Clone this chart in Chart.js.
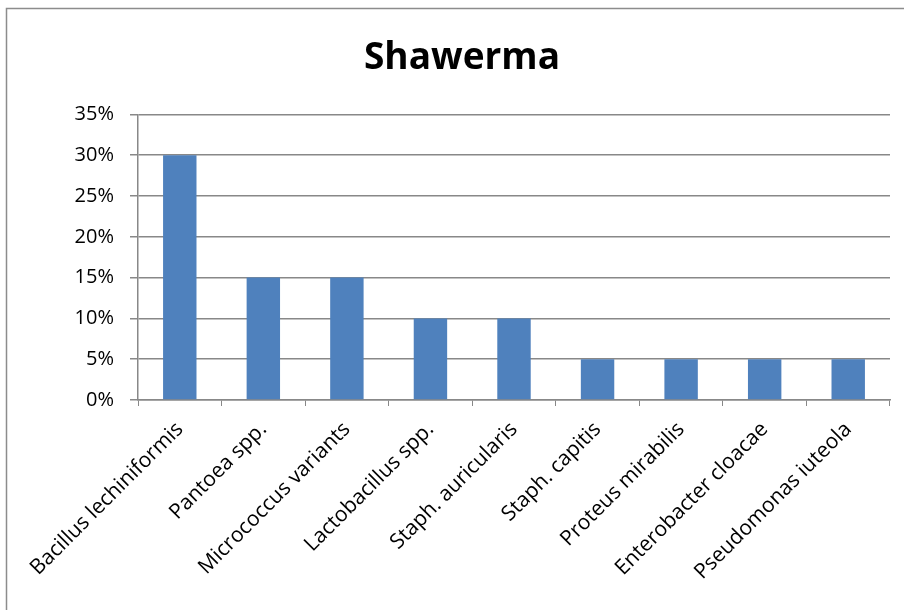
<!DOCTYPE html>
<html lang="en">

<head>
  <meta charset="UTF-8" />
  <title>Shawerma</title>
  <style>
    body { margin: 0; background: #fff; }
    #wrap { width: 904px; height: 610px; }
  </style>
</head>

<body>
  <div id="wrap"><canvas id="myChart" width="904" height="610"></canvas></div>
  <script src="https://cdn.jsdelivr.net/npm/chart.js@4.4.1/dist/chart.umd.min.js"></script>

  <script>
    const categories = [
      "Bacillus lechiniformis",
      "Pantoea spp.",
      "Micrococcus variants",
      "Lactobacillus spp.",
      "Staph. auricularis",
      "Staph. capitis",
      "Proteus mirabilis",
      "Enterobacter cloacae",
      "Pseudomonas iuteola"
    ];
    const percentages = [30, 15, 15, 10, 10, 5, 5, 5, 5];
    const yTicks = [0, 5, 10, 15, 20, 25, 30, 35];

    const gridColor = "#888888";
    const fontFamily = "'Open Sans', Lato, sans-serif";

    // thin frame round the chart, running off the right and bottom edges
    const frame = {
      id: "frame",
      beforeDraw(chart) {
        const ctx = chart.ctx;
        ctx.save();
        ctx.strokeStyle = "#8c8c8c";
        ctx.lineWidth = 1.5;
        ctx.strokeRect(6.5, 8.5, 1000, 1000);
        ctx.restore();
      }
    };

    // centre the title over the frame rather than the canvas
    const titleShift = {
      id: "titleShift",
      afterLayout(chart) {
        chart.titleBlock.left += 17;
        chart.titleBlock.right += 17;
      }
    };

    new Chart(document.getElementById("myChart"), {
      type: "bar",
      data: {
        labels: categories,
        datasets: [{
          data: percentages,
          backgroundColor: "#4F81BD",
          barPercentage: 0.4,
          categoryPercentage: 1.0
        }]
      },
      options: {
        responsive: false,
        animation: false,
        layout: { padding: { left: 0, right: 14, top: 0, bottom: 0 } },
        plugins: {
          legend: { display: false },
          tooltip: { enabled: false },
          title: {
            display: true,
            text: "Shawerma",
            color: "#000",
            font: { family: fontFamily, size: 37, weight: "bold", lineHeight: 1.2 },
            padding: { top: 36, bottom: 34 }
          }
        },
        scales: {
          x: {
            grid: { display: true, drawOnChartArea: false, color: gridColor, tickLength: 6, offset: true },
            border: { color: gridColor, width: 1.5 },
            ticks: {
              color: "#000",
              font: { family: fontFamily, size: 21 },
              maxRotation: 45,
              minRotation: 45,
              autoSkip: false,
              padding: 11
            },
            afterFit: (scale) => { scale.height = 210; }
          },
          y: {
            min: 0,
            max: 35,
            afterBuildTicks: (scale) => { scale.ticks = yTicks.map(v => ({ value: v })); },
            grid: { color: gridColor, lineWidth: 1.5, tickLength: 8 },
            border: { color: gridColor, width: 1.5 },
            ticks: {
              color: "#000",
              font: { family: fontFamily, size: 20 },
              padding: 16,
              callback: (v) => v + "%"
            },
            afterFit: (scale) => { scale.width = 138; }
          }
        }
      },
      plugins: [frame, titleShift]
    });
  </script>
</body>

</html>
